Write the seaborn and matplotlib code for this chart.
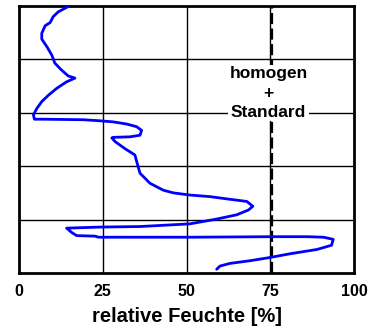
import matplotlib
matplotlib.use("Agg")
import matplotlib.pyplot as plt
import seaborn as sns
import pandas as pd

# relative humidity profile (x in %) vs. depth (0 = top, 5 = bottom)
feuchte = [14.7, 11.7, 10.2, 9.3, 7.8, 6.8, 6.8, 8.3, 9.8, 10.7, 12.7, 14.7, 16.7, 14.2, 11.3,
           8.8, 6.8, 5.3, 4.3, 4.6, 7.3, 19.2, 24.2, 28.1, 32.1, 35.1, 36.6, 36.1, 33.1, 28.1,
           27.7, 28.7, 31.6, 34.6, 35.3, 36.1, 39.1, 43.1, 46.1, 51.0, 57.0, 63.0, 68.0, 69.8,
           68.5, 65.0, 59.0, 51.0, 36.1, 24.2, 14.2, 15.7, 17.2, 22.7, 23.7, 51.0, 75.9, 85.9,
           90.9, 93.8, 93.3, 88.9, 80.9, 74.9, 69.0, 63.0, 60.0, 59.0]
tiefe = [0.01, 0.11, 0.20, 0.31, 0.37, 0.51, 0.62, 0.76, 0.92, 1.07, 1.20, 1.31, 1.35, 1.42, 1.54,
         1.67, 1.79, 1.92, 2.04, 2.12, 2.12, 2.13, 2.15, 2.17, 2.21, 2.26, 2.33, 2.42, 2.45, 2.46,
         2.47, 2.54, 2.67, 2.79, 2.95, 3.13, 3.32, 3.45, 3.50, 3.54, 3.57, 3.62, 3.66, 3.75,
         3.82, 3.91, 3.99, 4.08, 4.13, 4.14, 4.16, 4.24, 4.30, 4.31, 4.33, 4.33, 4.32, 4.32,
         4.33, 4.37, 4.48, 4.56, 4.64, 4.71, 4.77, 4.82, 4.87, 4.93]
x_ticks = [0, 25, 50, 75, 100]
x_ticklabels = ["0", "25", "50", "75", "100"]
y_grid = [0, 1, 2, 3, 4, 5]
standard_x = 75
annotation = "homogen\n+\nStandard"
x_label = "relative Feuchte [%]"

df = pd.DataFrame({"feuchte": feuchte, "tiefe": tiefe, "idx": range(len(feuchte))})

sns.set_style("white")
plt.rcParams["font.family"] = ["Liberation Sans", "DejaVu Sans"]
plt.rcParams["text.color"] = "black"
plt.rcParams["axes.labelcolor"] = "black"
plt.rcParams["xtick.color"] = "black"

fig = plt.figure(figsize=(3.8, 3.28), dpi=100)
ax = fig.add_axes([0.05, 0.1677, 0.8816, 0.814])

for v in x_ticks[1:-1]:
    ax.axvline(v, color="black", lw=1.0, zorder=1)
for h in y_grid[1:-1]:
    ax.axhline(h, color="black", lw=1.0, zorder=1)

ax.axvline(standard_x + 0.4, color="black", lw=1.6, dashes=(5, 2), zorder=2)

sns.lineplot(data=df, x="feuchte", y="tiefe", sort=False, estimator=None,
             color="#0000ff", lw=2.0, ax=ax, zorder=3)

ax.text(74.5, 1.63, annotation, ha="center", va="center", fontsize=12.5,
        fontweight="bold", linespacing=1.35, zorder=4, color="black",
        bbox=dict(facecolor="white", edgecolor="none", pad=1.0))

ax.set_xlim(0, 100)
ax.set_ylim(5, 0)
ax.set_xticks(x_ticks)
ax.set_xticklabels(x_ticklabels, fontsize=11.5, fontweight="bold", color="black")
ax.set_yticks([])
ax.set_ylabel("")
ax.set_xlabel(x_label, fontsize=14.5, fontweight="bold", labelpad=6, color="black")
ax.tick_params(axis="x", length=0, pad=8)
for s in ax.spines.values():
    s.set_color("black")
    s.set_linewidth(2.0)
    s.set_visible(True)

fig.savefig("out.png", dpi=100)
